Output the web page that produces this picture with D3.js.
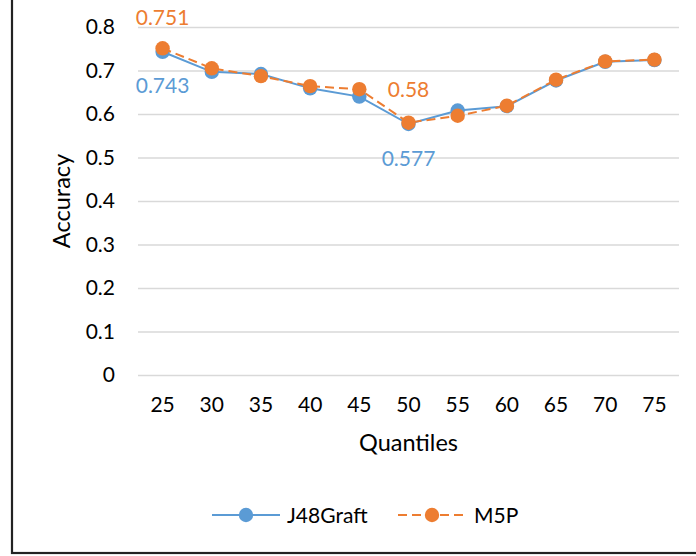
<!DOCTYPE html>
<html><head><meta charset="utf-8">
<script src="https://cdn.jsdelivr.net/npm/d3@7/dist/d3.min.js"></script>
<style>body{margin:0;background:#fff}svg{display:block;font-family:Lato,'Open Sans',sans-serif}</style>
</head><body><svg id="c" width="696" height="556"></svg>
<script>
const categories = ["25","30","35","40","45","50","55","60","65","70","75"];
const j48Graft = [0.743,0.697,0.692,0.659,0.640,0.577,0.608,0.618,0.677,0.720,0.724];
const m5p      = [0.751,0.705,0.687,0.664,0.657,0.580,0.596,0.619,0.679,0.721,0.725];
const yTicks = [0,0.1,0.2,0.3,0.4,0.5,0.6,0.7,0.8];
const seriesNames = ["J48Graft","M5P"];
const labels = [
  {series:1, idx:0, text:"0.751", pos:"above"},
  {series:0, idx:0, text:"0.743", pos:"below"},
  {series:1, idx:5, text:"0.58", pos:"above"},
  {series:0, idx:5, text:"0.577", pos:"below"}
];
const colors = ["#5B9BD5","#ED7D31"];
const svg = d3.select("#c");
const L=138, R=679, T=27, B=375;
const x = d3.scaleBand().domain(categories).range([L,R]);
const y = d3.scaleLinear().domain([0,0.8]).range([B,T]);
const cx = d => x(d)+x.bandwidth()/2;
const FS=21;

// frame
svg.append("rect").attr("x",12).attr("y",-10).attr("width",700).attr("height",563)
  .attr("fill","none").attr("stroke","#222").attr("stroke-width",2.2);

// grid
const ya = d3.axisLeft(y).tickValues(yTicks).tickSize(-(R-L)).tickPadding(23).tickFormat(d=>d===0?"0":d3.format(".1f")(d));
const gy = svg.append("g").attr("transform",`translate(${L},0)`).call(ya);
gy.select(".domain").remove();
gy.selectAll(".tick line").attr("stroke","#D9D9D9").attr("stroke-width",1.3);
gy.selectAll(".tick text").attr("font-size",FS).attr("fill","#000").attr("font-family","Lato");

const xa = d3.axisBottom(x).tickSize(0).tickPadding(22);
const gx = svg.append("g").attr("transform",`translate(0,${B})`).call(xa);
gx.select(".domain").remove();
gx.selectAll(".tick text").attr("font-size",FS).attr("fill","#000").attr("font-family","Lato");

svg.append("text").attr("x",(L+R)/2).attr("y",451).attr("text-anchor","middle")
  .attr("font-size",23.5).text("Quantiles");
svg.append("text").attr("transform",`translate(70,${(T+B)/2}) rotate(-90)`).attr("text-anchor","middle")
  .attr("font-size",23.5).text("Accuracy");

const data=[j48Graft,m5p];
const line = d3.line().x((d,i)=>cx(categories[i])).y(d=>y(d));
data.forEach((s,k)=>{
  svg.append("path").datum(s).attr("d",line).attr("fill","none").attr("stroke",colors[k])
    .attr("stroke-width",2).attr("stroke-dasharray",k===1?"9,5":null);
  svg.append("g").selectAll("circle").data(s).join("circle")
    .attr("cx",(d,i)=>cx(categories[i])).attr("cy",d=>y(d)).attr("r",7.2).attr("fill",colors[k]);
});

labels.forEach(l=>{
  svg.append("text").attr("x",cx(categories[l.idx])).attr("y",l.pos==="above"? (l.idx===0?25:97) : (l.idx===0?93:166))
    .attr("text-anchor","middle").attr("font-size",FS).attr("fill",colors[l.series]).text(l.text);
});

// legend
const ly=515;
const leg=[{x1:212,x2:280,mx:246,tx:287},{x1:398,x2:467,mx:432,tx:474}];
leg.forEach((g,k)=>{
  svg.append("line").attr("x1",g.x1).attr("x2",g.x2).attr("y1",ly).attr("y2",ly).attr("stroke",colors[k])
    .attr("stroke-width",2).attr("stroke-dasharray",k===1?"9,5":null);
  svg.append("circle").attr("cx",g.mx).attr("cy",ly).attr("r",7.2).attr("fill",colors[k]);
  svg.append("text").attr("x",g.tx).attr("y",ly+7.5).attr("font-size",FS).text(seriesNames[k]);
});
</script></body></html>
